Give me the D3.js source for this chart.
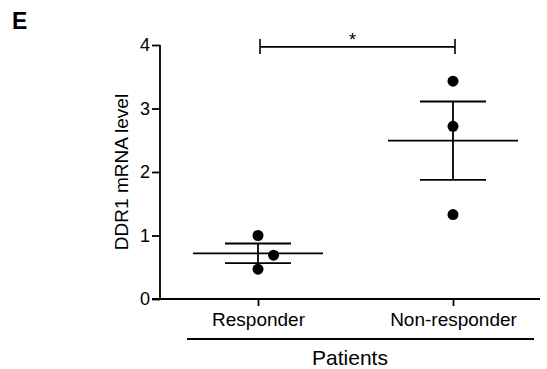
<!DOCTYPE html>
<html lang="en">
<head>
    <meta charset="utf-8">
    <title>DDR1 mRNA level</title>
    <style>
        body { margin: 0; background: #fff; }
        svg { display: block; font-family: "Liberation Sans", Arial, sans-serif; }
        .axis text { fill: #000; }
        .axis path, .axis line { stroke: #000; stroke-width: 1.8px; }
    </style>
</head>
<body>
<svg id="chart" width="547" height="369"></svg>
<script src="https://d3js.org/d3.v7.min.js"></script>
<script>
    // data
    const groups = ["Responder", "Non-responder"];
    const responder = [1.0, 0.69, 0.47];
    const nonResponder = [3.43, 2.72, 1.33];
    const jitterResp = [0, 0.08, 0];     // horizontal spread, fraction of group step
    const jitterNon = [0, 0, 0];
    const yTicks = [0, 1, 2, 3, 4];
    const sigLabel = "*";

    const series = [
        { name: groups[0], values: responder, jitter: jitterResp },
        { name: groups[1], values: nonResponder, jitter: jitterNon }
    ];

    const svg = d3.select("#chart");
    const axLeft = 160, axRight = 540, axTop = 45, axBottom = 299;

    const y = d3.scaleLinear().domain([0, 4]).range([axBottom, axTop]);
    const x = d3.scalePoint().domain(groups).range([258, 453]);
    const step = x.step();

    // y axis
    svg.append("g")
        .attr("class", "axis")
        .attr("transform", "translate(" + axLeft + ",0)")
        .call(d3.axisLeft(y).tickValues(yTicks).tickFormat(d3.format("d")).tickSize(8).tickPadding(2))
        .attr("font-size", 18)
        .attr("font-family", null)
        .call(g => g.select(".domain").attr("d", "M0," + axTop + "V" + axBottom));

    // x axis
    const xg = svg.append("g")
        .attr("class", "axis")
        .attr("transform", "translate(0," + axBottom + ")")
        .call(d3.axisBottom(x).tickSize(7).tickSizeOuter(0).tickPadding(7))
        .attr("font-size", 19)
        .attr("font-family", null);
    xg.select(".domain").attr("d", "M" + (axLeft - 8) + ",0H" + axRight);

    svg.append("text")
        .attr("transform", "translate(128," + ((axTop + axBottom) / 2) + ") rotate(-90)")
        .attr("text-anchor", "middle")
        .style("font-size", "19px")
        .text("DDR1 mRNA level");

    // group underline + title
    svg.append("line")
        .attr("x1", 187).attr("x2", 534)
        .attr("y1", 339).attr("y2", 339)
        .attr("stroke", "#000").attr("stroke-width", 2);
    svg.append("text")
        .attr("x", 350).attr("y", 365)
        .attr("text-anchor", "middle")
        .style("font-size", "21px")
        .text("Patients");

    // panel letter
    svg.append("text")
        .attr("x", 12).attr("y", 29)
        .style("font-size", "23px").style("font-weight", "bold")
        .text("E");

    // mean +- SEM
    const meanW = 65, capW = 33;
    series.forEach(s => {
        const m = d3.mean(s.values);
        const sem = d3.deviation(s.values) / Math.sqrt(s.values.length);
        const cx = x(s.name);
        const g = svg.append("g").attr("stroke", "#000").attr("stroke-width", 1.8);
        g.append("line").attr("x1", cx - meanW).attr("x2", cx + meanW).attr("y1", y(m)).attr("y2", y(m));
        g.append("line").attr("x1", cx - capW).attr("x2", cx + capW).attr("y1", y(m + sem)).attr("y2", y(m + sem));
        g.append("line").attr("x1", cx - capW).attr("x2", cx + capW).attr("y1", y(m - sem)).attr("y2", y(m - sem));
        g.append("line").attr("x1", cx).attr("x2", cx).attr("y1", y(m + sem)).attr("y2", y(m - sem));

        svg.append("g").selectAll("circle")
            .data(s.values)
            .join("circle")
            .attr("cx", (d, i) => cx + s.jitter[i] * step)
            .attr("cy", d => y(d))
            .attr("r", 5.5)
            .attr("fill", "#000");
    });

    // significance bracket
    const sigY = y(3.97);
    const bx1 = x(groups[0]) + 2, bx2 = x(groups[1]) + 2;
    const br = svg.append("g").attr("stroke", "#000").attr("stroke-width", 1.6);
    br.append("line").attr("x1", bx1).attr("x2", bx2).attr("y1", sigY).attr("y2", sigY);
    br.append("line").attr("x1", bx1).attr("x2", bx1).attr("y1", sigY - 8).attr("y2", sigY + 7);
    br.append("line").attr("x1", bx2).attr("x2", bx2).attr("y1", sigY - 8).attr("y2", sigY + 7);
    svg.append("text")
        .attr("x", (bx1 + bx2) / 2 - 5).attr("y", sigY - 1)
        .attr("text-anchor", "middle")
        .style("font-size", "18px")
        .text(sigLabel);
</script>
</body>
</html>
